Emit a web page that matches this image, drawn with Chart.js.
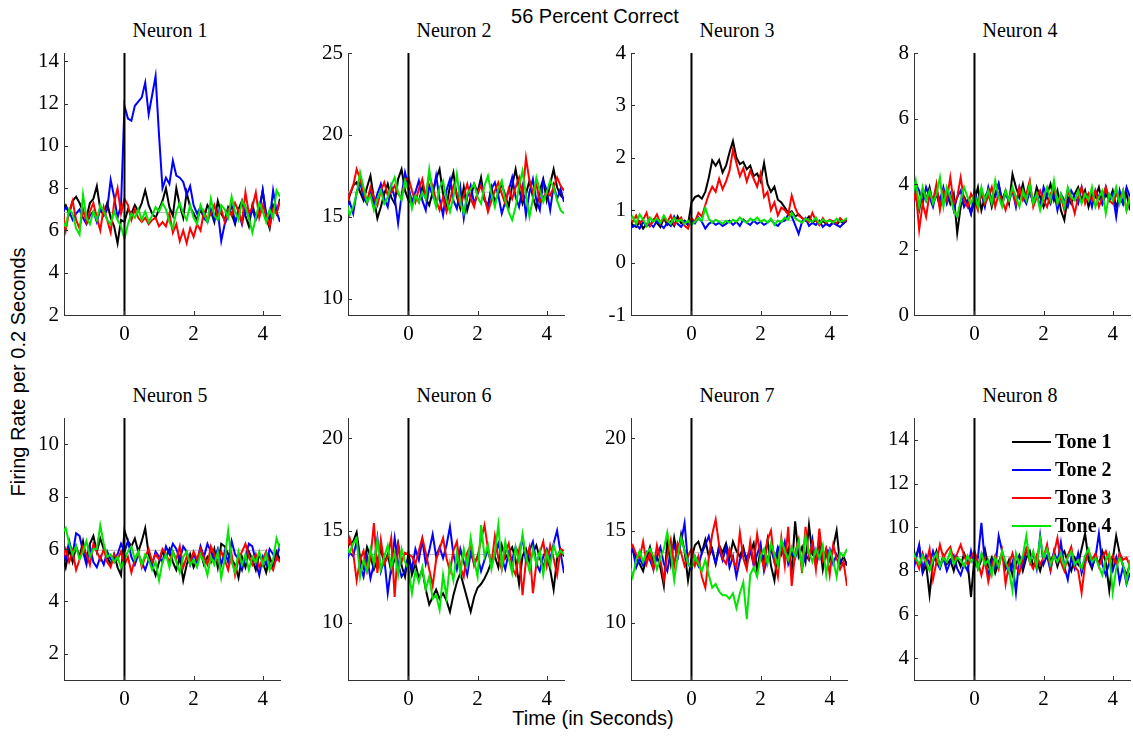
<!DOCTYPE html>
<html>
<head>
<meta charset="utf-8">
<script src="https://cdn.jsdelivr.net/npm/chart.js@4.4.1/dist/chart.umd.min.js"></script>
<style>
  html, body { margin: 0; padding: 0; background: #fff; }
  #page { position: relative; width: 1133px; height: 738px; overflow: hidden; background: #fff; }
  .panel { position: absolute; }
  .lbl { position: absolute; transform: translate(-50%, -50%); white-space: nowrap; line-height: 1; color: #000; }
  .serif { font-family: "Liberation Serif", "Times New Roman", serif; font-size: 20px; }
  .sans { font-family: "Liberation Sans", Arial, sans-serif; font-size: 20px; }
</style>
</head>
<body>
<div id="page">
  <div class="lbl sans" style="left:595px; top:16px;">56 Percent Correct</div>
  <div class="lbl sans" style="left:593px; top:718px;">Time (in Seconds)</div>
  <div class="lbl sans" style="left:18px; top:372px; transform: translate(-50%, -50%) rotate(-90deg);">Firing Rate per 0.2 Seconds</div>
</div>
<script>
// time axis (seconds)
const times = [-1.8,-1.7,-1.6,-1.5,-1.4,-1.3,-1.2,-1.1,-1.0,-0.9,-0.8,-0.7,-0.6,-0.5,-0.4,-0.3,-0.2,-0.1,
  0,0.1,0.2,0.3,0.4,0.5,0.6,0.7,0.8,0.9,1.0,1.1,1.2,1.3,1.4,1.5,1.6,1.7,1.8,1.9,
  2.0,2.1,2.2,2.3,2.4,2.5,2.6,2.7,2.8,2.9,3.0,3.1,3.2,3.3,3.4,3.5,3.6,3.7,3.8,3.9,
  4.0,4.1,4.2,4.3,4.4,4.5];

const neuronTitles = ['Neuron 1','Neuron 2','Neuron 3','Neuron 4','Neuron 5','Neuron 6','Neuron 7','Neuron 8'];
const toneLabels = ['Tone 1','Tone 2','Tone 3','Tone 4'];
const timeTicks = [0, 2, 4];
const neuronTicks = [
  [2,4,6,8,10,12,14], [10,15,20,25], [-1,0,1,2,3,4], [0,2,4,6,8],
  [2,4,6,8,10], [10,15,20], [10,15,20], [4,6,8,10,12,14]
];
const yLimits = [[2,14.4],[9,25],[-1,4],[0,8],[1,11],[6.9,21.1],[6.9,21.1],[3,15]];
const baselines = [6.85, 16.5, 0.8, 3.6, 5.95, 13.7, 13.8, 8.65];

// Neuron 1
const neuron1Tone1 = [7.0,7.2,6.8,7.4,7.6,7.3,6.9,6.6,7.3,7.5,8.1,7.0,6.8,7.3,6.6,6.2,5.4,6.5,
  6.4,7.0,6.8,7.2,6.9,7.3,7.9,7.2,6.8,6.6, 7.0,7.4,8.0,7.1,6.7,8.0,7.2,6.6,7.8,7.1,
  6.8,6.5,7.0,6.6,7.2,6.9,6.4,7.4,6.8,6.5, 7.1,6.8,6.3,7.0,7.4,6.7,6.2,7.2,6.6,7.0, 7.9,6.6,6.1,7.2,6.8,7.5];
const neuron1Tone2 = [6.8,7.1,6.9,6.5,6.8,7.0,6.6,6.3,6.7,6.9,6.4,7.0,6.7,7.0,8.4,7.6,6.6,7.2,
  11.9,11.3,11.2,11.9,12.1,12.3,13.0,11.5,12.4,13.3, 10.5,8.0,8.5,8.2,9.3,8.6,8.5,8.3,7.7,8.1,
  7.2,6.8,7.1,6.6,6.4,7.0,6.5,6.9,5.5,6.3, 6.7,7.2,6.4,6.9,6.3,7.1,6.6,7.0,6.5,6.9, 7.9,6.8,6.5,7.9,6.9,6.4];
const neuron1Tone3 = [7.0,6.0,6.9,7.4,6.5,6.1,7.0,6.4,6.9,7.3,6.6,6.0,7.1,6.5,5.9,7.3,8.0,6.8,
  7.5,7.2,6.5,7.0,6.6,6.4,6.6,6.3,6.5,6.6, 6.2,6.4,6.2,6.8,5.9,6.3,5.5,6.0,5.4,6.1,
  5.7,6.3,6.0,6.9,6.5,6.8,7.2,6.6,7.0,6.4, 7.0,6.7,7.3,6.9,6.4,7.8,6.8,7.1,7.8,6.6, 7.2,6.7,6.2,7.0,6.8,7.4];
const neuron1Tone4 = [6.4,6.2,7.0,6.8,6.1,5.8,7.7,6.6,6.3,6.9,6.5,7.2,6.9,6.5,6.3,6.9,6.5,6.2,
  5.6,6.3,6.8,6.6,7.0,6.5,6.9,6.4,6.7,7.1, 6.9,7.3,7.0,6.4,6.1,6.9,7.3,6.8,6.5,7.2,
  6.6,6.3,7.2,6.8,6.4,7.5,6.7,6.5,7.2,7.0, 6.6,7.6,6.9,6.5,7.4,7.1,6.6,5.9,6.6,7.3, 6.9,6.4,7.0,6.6,7.9,7.6];

// Neuron 2
const neuron2Tone1 = [15.6,16.3,16.9,17.1,16.5,16.0,16.8,17.5,16.1,14.9,15.6,16.4,17.0,16.2,15.8,17.3,17.9,16.6,
  16.0,15.8,16.3,15.9,16.8,16.1,15.7,16.5,17.3,17.9, 16.4,15.6,16.9,17.7,16.2,15.5,16.8,15.4,16.2,17.0,
  16.5,17.4,16.0,15.7,16.8,15.9,16.4,17.0,16.3,15.6, 16.9,17.9,16.7,15.8,16.4,17.2,16.2,15.5,16.6,17.3, 16.0,17.0,17.9,16.8,16.3,16.1];
const neuron2Tone2 = [15.5,15.9,15.2,16.5,17.1,16.2,15.8,16.6,15.7,16.4,17.0,16.1,15.6,16.9,16.2,14.6,16.3,17.7,
  16.8,15.9,16.5,17.2,16.0,15.4,16.9,16.3,17.5,16.1, 15.1,16.6,17.3,16.0,15.5,16.8,14.9,16.2,16.9,15.8,
  16.4,17.0,16.1,15.5,16.7,17.1,16.3,15.2,15.9,16.6, 17.4,16.2,15.6,16.8,15.1,16.5,17.3,16.0,15.4,17.2, 16.6,15.4,16.9,16.1,16.7,15.9];
const neuron2Tone3 = [15.8,16.4,16.9,17.9,17.3,16.5,15.9,16.8,16.2,15.7,16.6,17.1,16.3,16.5,16.9,16.4,16.1,17.2,
  17.4,16.6,15.9,16.7,17.3,16.2,17.6,16.8,16.0,15.4, 16.2,15.3,16.0,16.9,16.4,15.7,16.3,17.0,16.1,15.6,
  16.5,16.9,16.2,15.3,16.0,16.6,17.1,16.4,15.8,16.7, 16.1,16.8,17.4,16.3,18.6,17.2,16.5,17.0,15.9,16.2, 16.5,16.3,16.8,17.4,16.9,16.6];
const neuron2Tone4 = [16.0,15.1,15.6,16.4,17.7,16.8,15.9,16.3,15.4,16.1,16.6,15.8,16.2,16.9,17.4,16.5,16.0,17.2,
  16.6,15.5,16.3,15.9,16.5,16.1,17.9,16.4,15.6,16.8, 17.2,16.0,15.3,16.2,17.6,15.9,15.2,16.4,16.7,17.0,
  16.2,15.8,16.9,17.5,16.4,15.6,16.7,17.2,16.0,15.3, 14.8,15.6,16.9,17.8,16.3,15.0,16.1,17.4,16.6,15.9, 16.5,17.2,16.8,16.0,15.4,15.2];

// Neuron 3
const neuron3Tone1 = [0.80,0.72,0.68,0.78,0.65,0.74,0.70,0.82,0.76,0.68,0.85,0.72,0.78,0.70,0.88,0.75,0.80,0.72,
  1.15,1.25,1.28,1.22,1.35,1.62,1.95,1.85,1.96,1.72, 1.85,2.10,2.32,2.00,1.88,1.92,1.78,1.85,1.65,1.70,
  1.55,1.90,1.50,1.35,1.45,1.20,1.15,1.05,0.95,0.98, 0.88,0.92,0.85,0.80,0.88,0.76,0.82,0.72,0.80,0.74, 0.70,0.78,0.72,0.80,0.75,0.82];
const neuron3Tone2 = [0.75,0.68,0.72,0.65,0.78,0.70,0.74,0.68,0.80,0.72,0.66,0.76,0.70,0.88,0.74,0.68,0.78,0.72,
  0.82,0.75,0.86,0.78,0.65,0.74,0.78,0.72,0.76,0.70, 0.74,0.80,0.72,0.78,0.70,0.82,0.76,0.72,0.80,0.74,
  0.78,0.72,0.76,0.82,0.74,0.70,0.78,0.80,0.92,0.88, 0.72,0.55,0.78,0.85,0.70,0.76,0.72,0.80,0.68,0.74, 0.70,0.76,0.72,0.68,0.75,0.80];
const neuron3Tone3 = [0.85,0.78,0.90,0.75,0.82,0.95,0.70,0.80,0.92,0.75,0.85,0.78,0.90,0.72,0.80,0.86,0.70,0.65,
  0.85,0.78,0.95,0.88,1.10,1.30,1.45,1.35,1.60,1.40, 1.55,1.75,2.15,1.90,1.65,1.80,1.55,1.75,1.60,1.45,
  1.70,1.25,1.35,1.00,1.15,0.90,1.05,1.00,0.92,1.28, 1.05,0.90,0.85,0.82,0.78,0.95,0.80,0.72,0.85,0.76, 0.82,0.78,0.75,0.85,0.78,0.82];
const neuron3Tone4 = [0.80,0.88,0.74,0.92,0.82,0.70,0.86,0.78,0.84,0.76,0.90,0.80,0.74,0.85,0.78,0.82,0.74,0.80,
  0.72,0.78,0.85,0.80,1.05,0.84,0.76,0.82,0.78,0.74, 0.80,0.76,0.82,0.78,0.86,0.80,0.76,0.84,0.80,0.86,
  0.78,0.82,0.76,0.84,0.72,0.80,0.78,0.86,0.82,0.95, 0.85,0.80,0.76,0.84,0.80,0.78,0.86,0.74,0.82,0.78, 0.80,0.76,0.84,0.78,0.80,0.85];

// Neuron 4
const neuron4Tone1 = [4.0,3.6,3.2,3.8,3.5,3.9,3.4,3.7,3.3,3.6,3.8,3.4,3.7,2.5,3.3,3.6,3.4,3.1,
  3.5,3.9,3.2,3.6,3.8,3.3,3.7,4.0,3.5,3.8, 3.4,4.3,3.9,3.6,4.0,3.5,3.8,3.4,3.9,3.6,
  3.3,3.7,4.0,3.5,3.8,3.2,2.9,3.6,3.4,3.7, 3.9,3.5,3.8,3.3,3.7,3.6,3.9,3.4,3.7,3.5, 3.8,3.3,3.6,3.4,3.7,3.2];
const neuron4Tone2 = [3.2,4.0,3.8,3.4,3.9,3.6,3.3,3.8,3.5,3.9,3.4,3.7,3.2,3.6,3.8,3.3,3.5,3.1,
  3.8,3.4,3.7,3.3,3.9,3.5,3.6,4.0,3.4,3.7, 3.5,3.8,3.3,3.9,3.6,3.4,3.8,3.5,3.7,3.3,
  3.9,3.6,3.4,3.8,3.2,3.7,3.5,3.3,3.8,3.6, 3.4,3.9,3.5,3.7,3.3,3.8,3.6,3.4,3.9,3.5, 3.7,3.0,3.8,3.4,3.9,3.6];
const neuron4Tone3 = [3.3,3.8,2.6,3.4,3.0,3.7,3.5,4.0,3.2,3.8,3.5,4.2,3.4,3.6,4.2,3.5,3.3,3.7,
  3.5,3.2,3.8,3.4,3.6,3.9,3.3,3.7,3.5,3.2, 3.6,3.8,3.4,3.9,3.5,3.7,4.1,3.3,3.6,3.8,
  3.5,3.3,3.7,3.9,3.4,3.6,3.2,3.8,3.5,3.1, 3.6,3.9,3.4,3.7,3.5,3.8,3.3,3.6,3.9,3.5, 3.4,3.7,3.5,3.8,3.2,3.6];
const neuron4Tone4 = [3.6,4.1,3.3,3.9,3.5,3.8,3.4,3.7,4.2,3.3,3.9,3.6,3.2,3.0,3.5,3.9,3.6,3.4,
  3.7,3.3,3.9,3.5,3.8,3.4,4.1,3.6,3.3,3.8, 3.5,3.9,3.6,3.3,3.8,3.5,4.0,3.4,3.7,3.2,
  3.6,3.9,3.5,4.1,3.4,3.7,3.3,3.9,3.6,3.5, 3.8,3.4,3.7,3.5,3.9,3.3,3.6,3.8,3.1,3.7, 3.5,3.9,3.4,3.8,3.2,3.6];

// Neuron 5
const neuron5Tone1 = [5.8,5.3,6.0,5.5,6.1,5.7,6.3,5.6,6.2,6.5,5.9,6.4,6.0,5.7,5.4,5.8,5.3,5.0,
  6.7,6.3,6.1,6.4,5.9,6.3,6.8,5.8,5.4,5.0, 5.5,5.9,5.7,6.0,5.5,5.2,5.7,4.8,5.4,5.8,
  5.3,5.6,5.9,5.4,5.7,5.5,6.0,5.3,6.2,6.1, 5.8,5.6,5.4,4.9,5.7,5.3,5.9,5.6,5.2,5.8, 5.5,5.1,5.7,5.3,5.9,5.6];
const neuron5Tone2 = [6.0,5.6,6.3,5.8,6.6,6.5,5.9,5.4,6.1,5.5,5.3,5.7,5.4,5.9,5.6,5.5,5.8,6.2,
  5.9,6.3,5.7,5.4,5.8,5.5,5.2,5.6,5.4,5.9, 5.7,5.5,6.1,5.8,6.2,6.0,5.6,6.1,5.9,5.4,
  5.8,5.5,6.1,5.7,6.2,5.9,5.6,6.0,5.4,5.9, 5.5,6.3,5.8,5.6,5.2,5.7,6.2,6.1,5.5,5.0, 5.7,5.4,6.0,5.8,5.6,6.2];
const neuron5Tone3 = [5.6,6.0,5.5,5.9,5.2,5.6,6.1,5.8,5.4,6.2,5.9,5.6,6.0,5.5,5.3,5.8,5.6,5.9,
  5.4,5.7,5.1,5.6,5.9,5.3,5.7,6.0,5.5,5.8, 5.6,6.0,5.8,5.5,5.9,5.6,6.1,5.3,5.7,5.5,
  5.9,5.6,6.0,5.7,5.4,6.1,5.8,5.5,5.9,5.6, 5.2,5.8,5.0,5.6,5.9,6.2,5.7,5.4,5.8,5.3, 5.6,5.9,5.4,5.2,5.7,5.5];
const neuron5Tone4 = [6.6,6.8,6.2,5.8,6.1,5.6,5.9,6.3,5.7,6.0,6.0,6.9,6.2,5.7,5.8,5.5,5.7,5.3,
  5.6,5.9,6.1,5.6,5.9,5.4,5.8,5.6,5.2,5.5, 4.8,5.5,5.8,5.3,5.9,5.5,5.1,5.7,5.9,5.4,
  5.6,5.3,5.8,5.5,5.0,5.7,5.4,5.9,4.9,5.6, 6.7,5.5,5.1,5.9,5.4,5.8,5.2,5.7,5.5,5.9, 5.4,5.8,5.2,5.6,6.4,6.0];

// Neuron 6
const neuron6Tone1 = [14.0,14.3,14.4,14.9,13.5,13.0,14.1,13.6,12.9,13.4,14.0,13.2,13.7,12.8,13.5,14.3,13.1,12.5,
  13.8,12.6,13.2,12.4,12.9,11.8,11.0,11.4,11.8,11.3, 11.6,11.2,10.6,11.5,12.2,12.7,12.0,11.3,10.6,11.4,
  11.9,12.1,12.4,12.8,13.3,13.6,13.0,14.2,13.5,13.8, 14.1,13.4,12.1,13.6,14.0,13.3,13.8,14.2,13.5,13.0, 13.7,12.9,11.8,13.5,14.0,13.6];
const neuron6Tone2 = [13.3,13.8,13.6,14.4,13.1,12.5,13.6,12.4,13.2,14.6,12.8,13.5,11.6,13.0,14.6,13.2,12.5,12.8,
  13.6,12.9,14.0,13.4,14.5,13.2,13.9,14.8,13.6,14.1, 13.5,14.2,15.2,13.7,12.9,14.0,13.3,12.6,13.8,13.2,
  13.6,12.8,13.4,14.0,13.1,13.7,14.3,13.5,12.9,13.8, 13.4,14.1,13.7,14.6,13.3,13.9,14.4,13.2,12.8,13.6, 14.0,13.4,14.3,15.0,13.8,12.7];
const neuron6Tone3 = [14.0,14.6,13.8,12.3,13.4,13.9,12.8,13.5,15.4,12.7,14.5,13.2,13.6,14.6,11.4,14.2,13.3,13.8,
  13.7,13.6,13.2,13.9,14.6,13.8,12.9,12.0,13.4,14.0, 14.6,13.5,12.8,13.9,14.4,13.0,12.5,13.8,14.2,13.1,
  13.6,14.5,15.3,14.0,13.2,14.7,13.5,12.9,13.8,14.3, 13.0,12.6,13.9,11.5,13.4,14.1,11.6,13.2,13.8,14.4, 13.1,14.2,13.5,12.6,14.0,13.9];
const neuron6Tone4 = [14.1,13.8,14.3,14.6,12.5,13.4,12.8,14.0,13.2,14.5,12.9,13.6,14.2,13.0,13.8,12.6,14.0,13.3,
  12.9,11.6,12.8,12.2,13.0,11.8,12.5,11.3,11.5,10.7, 12.6,11.4,13.2,12.3,13.8,12.7,14.0,13.1,14.6,13.4,
  12.5,15.3,13.6,14.2,12.9,13.8,15.3,13.0,14.4,13.5, 12.7,14.1,13.3,14.8,13.6,12.8,14.0,13.2,13.9,12.6, 13.8,13.1,14.2,13.6,13.9,13.7];

// Neuron 7
const neuron7Tone1 = [13.7,14.0,13.5,13.2,12.8,13.5,14.1,13.3,13.6,13.0,12.0,14.4,13.2,14.6,13.6,14.8,13.9,12.3,
  13.5,14.2,14.4,13.8,14.5,13.6,14.0,13.2,14.2,13.8, 14.3,13.5,14.4,13.9,13.6,14.1,13.2,13.8,14.3,12.8,
  14.0,13.4,14.5,13.1,12.3,13.9,14.2,13.5,14.0,12.8, 15.5,13.6,14.1,13.3,15.3,13.7,13.5,14.4,12.9,14.0, 13.4,14.1,15.0,13.2,13.6,13.1];
const neuron7Tone2 = [13.6,14.0,13.0,13.5,13.1,13.8,13.4,12.9,13.6,14.1,13.2,12.8,13.9,14.2,13.5,14.4,15.4,13.2,
  12.9,13.6,13.1,13.8,14.2,14.7,13.9,13.2,14.0,13.4, 14.1,13.0,13.6,12.5,13.4,13.9,13.5,14.0,13.1,13.7,
  14.3,12.8,13.5,14.0,13.3,14.1,13.7,14.4,13.2,13.8, 13.5,14.2,13.0,13.7,13.4,14.5,13.1,13.8,13.3,13.6, 14.0,13.2,13.7,13.4,13.1,13.3];
const neuron7Tone3 = [13.9,14.2,13.7,13.5,14.4,13.2,13.8,12.9,14.2,13.4,12.3,13.7,14.5,13.1,14.3,13.8,13.1,13.6,
  14.0,13.1,13.6,12.5,11.9,13.5,14.8,15.6,14.2,13.5, 13.2,14.0,13.4,13.0,14.9,13.5,12.9,14.4,13.2,14.8,
  13.6,13.0,14.5,15.0,13.3,12.5,14.6,13.1,15.2,12.0, 13.8,14.5,12.7,15.2,13.6,14.3,12.9,15.1,13.4,14.0, 12.6,14.2,13.5,12.9,13.3,12.0];
const neuron7Tone4 = [13.2,12.5,13.4,13.9,13.3,13.8,14.0,13.6,12.9,13.5,14.0,14.9,13.8,12.3,13.6,14.6,13.9,13.2,
  13.0,13.6,13.2,12.8,13.4,12.6,11.9,12.1,11.7,11.5, 11.5,11.3,11.6,10.8,11.6,12.2,10.2,12.6,13.0,12.5,
  13.6,14.0,13.2,14.3,13.7,13.1,14.5,13.9,13.4,14.1, 13.6,14.4,13.0,14.7,13.8,13.3,14.0,13.5,14.2,12.6, 13.9,13.4,12.5,13.8,13.6,14.0];

// Neuron 8
const neuron8Tone1 = [9.2,8.6,9.1,7.9,8.3,6.9,8.4,8.9,8.2,8.7,8.3,8.5,8.0,8.6,8.2,8.8,8.4,6.8,
  8.7,8.1,8.5,9.0,8.2,8.6,7.9,8.4,8.8,8.1, 8.5,7.8,8.3,8.7,8.0,8.6,8.9,8.2,8.5,8.0,
  8.6,9.1,8.4,8.8,8.2,8.7,8.9,8.4,8.0,8.6, 8.3,9.0,9.7,8.5,8.1,8.7,8.3,8.9,8.4,7.1, 8.5,9.6,8.8,8.2,7.8,8.3];
const neuron8Tone2 = [7.8,8.5,9.2,8.0,8.7,8.3,8.9,8.4,8.1,8.6,8.0,8.4,8.7,8.1,7.8,8.3,8.0,8.9,
  8.2,8.6,10.2,8.4,7.8,8.5,8.1,9.6,8.9,8.3, 7.9,8.4,7.0,8.6,8.2,9.0,8.5,8.8,8.1,9.6,
  8.3,8.7,8.0,8.9,8.4,9.3,8.2,7.6,8.6,8.1, 8.8,7.9,8.5,8.9,8.2,8.6,9.7,8.3,7.8,8.4, 8.0,8.6,7.5,8.2,7.4,7.9];
const neuron8Tone3 = [8.9,8.5,8.1,8.8,8.3,9.0,7.6,8.4,9.2,8.6,8.9,9.1,8.5,8.8,9.2,8.7,8.3,8.6,
  8.9,8.4,7.8,8.5,7.5,8.2,8.7,8.1,8.9,7.4, 8.3,8.8,8.2,7.9,8.6,9.0,8.4,8.1,8.7,8.3,
  8.6,9.2,8.1,8.8,9.5,8.4,8.0,8.7,9.1,8.2, 8.0,7.0,8.3,8.9,8.5,8.8,8.2,8.6,8.9,8.4, 8.7,8.3,8.8,8.5,8.6,8.2];
const neuron8Tone4 = [8.9,8.6,8.3,8.7,8.4,8.0,8.5,8.8,8.2,8.6,8.4,8.9,8.3,8.6,8.5,8.2,8.7,8.4,
  8.6,8.1,8.8,8.3,8.5,7.8,8.6,8.2,8.9,8.4, 8.0,7.1,8.8,8.3,8.7,9.6,8.4,8.9,8.2,9.5,
  8.6,9.0,8.3,8.7,8.4,8.8,8.2,8.6,8.9,8.3, 8.5,8.1,8.7,9.0,8.4,8.6,8.2,7.8,8.5,8.8, 7.0,8.1,8.6,8.3,7.5,8.5];

const neuronSeries = [
  [neuron1Tone1, neuron1Tone2, neuron1Tone3, neuron1Tone4],
  [neuron2Tone1, neuron2Tone2, neuron2Tone3, neuron2Tone4],
  [neuron3Tone1, neuron3Tone2, neuron3Tone3, neuron3Tone4],
  [neuron4Tone1, neuron4Tone2, neuron4Tone3, neuron4Tone4],
  [neuron5Tone1, neuron5Tone2, neuron5Tone3, neuron5Tone4],
  [neuron6Tone1, neuron6Tone2, neuron6Tone3, neuron6Tone4],
  [neuron7Tone1, neuron7Tone2, neuron7Tone3, neuron7Tone4],
  [neuron8Tone1, neuron8Tone2, neuron8Tone3, neuron8Tone4]
];

const toneColors = ['#000000', '#0000ff', '#ff0000', '#00e600'];
const colLeft = [64, 348, 631, 914];   // pixel x of each y axis
const rowTop = [53, 418];              // pixel y of each plot top
const plotW = 216, plotH = 262;
const padL = 50, padT = 14, padR = 8, padB = 34;
const serif = '"Liberation Serif", "Times New Roman", serif';

// zero line + inward ticks
const panelDecor = {
  id: 'panelDecor',
  afterDatasetsDraw(chart) {
    const ctx = chart.ctx, a = chart.chartArea;
    const xs = chart.scales.x, ys = chart.scales.y;
    ctx.save();
    ctx.strokeStyle = '#000';
    ctx.lineWidth = 2;
    const x0 = xs.getPixelForValue(0);
    ctx.beginPath();
    ctx.moveTo(x0, a.top);
    ctx.lineTo(x0, a.bottom);
    ctx.stroke();
    ctx.lineWidth = 1;
    ctx.strokeStyle = '#333';
    ctx.beginPath();
    ys.ticks.forEach(t => {
      const py = Math.round(ys.getPixelForValue(t.value)) + 0.5;
      ctx.moveTo(a.left, py); ctx.lineTo(a.left + 4, py);
    });
    xs.ticks.forEach(t => {
      const px = Math.round(xs.getPixelForValue(t.value)) + 0.5;
      ctx.moveTo(px, a.bottom); ctx.lineTo(px, a.bottom - 4);
    });
    ctx.stroke();
    ctx.restore();
  }
};

// legend drawn inside the last panel
const innerLegend = {
  id: 'innerLegend',
  afterDraw(chart, args, opts) {
    if (!opts.show) return;
    const ctx = chart.ctx, a = chart.chartArea;
    ctx.save();
    ctx.font = 'bold 20px ' + serif;
    ctx.textBaseline = 'middle';
    ctx.fillStyle = '#000';
    toneLabels.forEach((lab, i) => {
      const y = a.top + 24 + i * 28;
      ctx.strokeStyle = toneColors[i];
      ctx.lineWidth = 2;
      ctx.beginPath();
      ctx.moveTo(a.left + 98, y);
      ctx.lineTo(a.left + 137, y);
      ctx.stroke();
      ctx.fillText(lab, a.left + 141, y + 1);
    });
    ctx.restore();
  }
};

const page = document.getElementById('page');

neuronSeries.forEach((tones, n) => {
  const col = n % 4, row = Math.floor(n / 4);
  const left = colLeft[col] - padL, top = rowTop[row] - padT;
  const w = padL + plotW + padR, h = padT + plotH + padB;

  const title = document.createElement('div');
  title.className = 'lbl serif';
  title.style.left = (colLeft[col] + plotW / 2 - 2) + 'px';
  title.style.top = (rowTop[row] - 23) + 'px';
  title.textContent = neuronTitles[n];
  page.appendChild(title);

  const box = document.createElement('div');
  box.className = 'panel';
  box.style.left = left + 'px';
  box.style.top = top + 'px';
  box.style.width = w + 'px';
  box.style.height = h + 'px';
  const canvas = document.createElement('canvas');
  box.appendChild(canvas);
  page.appendChild(box);

  const datasets = tones.map((vals, i) => ({
    label: toneLabels[i],
    data: vals.map((v, k) => ({ x: times[k], y: v })),
    borderColor: toneColors[i],
    borderWidth: 2,
    pointRadius: 0,
    tension: 0,
    order: 4 - i
  }));
  datasets.push({
    label: 'mean',
    data: [{ x: -1.75, y: baselines[n] }, { x: 4.5, y: baselines[n] }],
    borderColor: '#b8b8b8',
    borderWidth: 1,
    pointRadius: 0,
    order: 9
  });

  new Chart(canvas, {
    type: 'line',
    data: { datasets: datasets },
    options: {
      responsive: true,
      maintainAspectRatio: false,
      animation: false,
      layout: { padding: { left: 0, top: padT, right: padR, bottom: 0 } },
      plugins: {
        legend: { display: false },
        tooltip: { enabled: false },
        innerLegend: { show: n === 7 }
      },
      scales: {
        x: {
          type: 'linear',
          min: -1.75,
          max: 4.5,
          afterBuildTicks: s => { s.ticks = timeTicks.map(v => ({ value: v })); },
          afterFit: s => { s.height = padB; s.paddingLeft = 0; s.paddingRight = 0; },
          grid: { display: false, drawTicks: false },
          border: { display: true, color: '#333', width: 1 },
          ticks: { padding: 7, color: '#000', font: { family: serif, size: 21 }, maxRotation: 0 }
        },
        y: {
          min: yLimits[n][0],
          max: yLimits[n][1],
          afterBuildTicks: s => { s.ticks = neuronTicks[n].map(v => ({ value: v })); },
          afterFit: s => { s.width = padL; s.paddingTop = 0; s.paddingBottom = 0; },
          grid: { display: false, drawTicks: false },
          border: { display: true, color: '#333', width: 1 },
          ticks: { padding: 5, color: '#000', font: { family: serif, size: 21 } }
        }
      }
    },
    plugins: [panelDecor, innerLegend]
  });
});
</script>
</body>
</html>
